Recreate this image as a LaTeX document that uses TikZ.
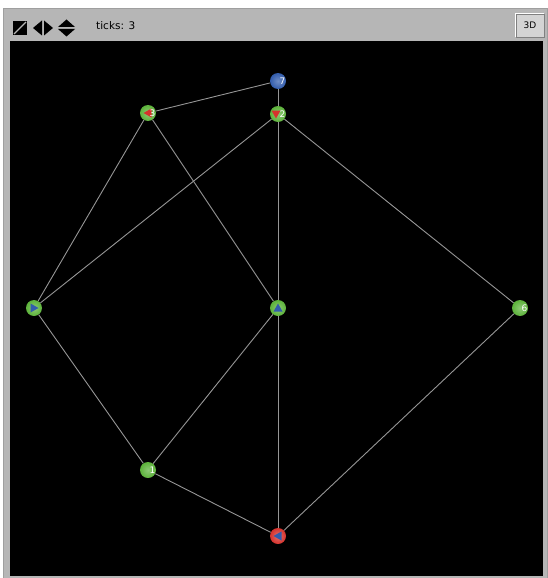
\documentclass[tikz,border=0pt]{standalone}
\usepackage{fontspec}
\setmainfont{DejaVu Sans}
\usetikzlibrary{positioning,calc}
\definecolor{nlgreen}{RGB}{92,178,58}
\definecolor{nlblue}{RGB}{50,92,172}
\definecolor{nlred}{RGB}{214,50,44}
\definecolor{linkgray}{RGB}{150,150,150}
\definecolor{bargray}{RGB}{182,182,182}
\definecolor{btngray}{RGB}{212,212,212}

\begin{document}
\begin{tikzpicture}[
    x=1pt, y=-1pt,
    vert/.style={circle, minimum size=16pt, inner sep=0pt, inner color=#1!70!white, outer color=#1},
    num/.style={text=white, font=\fontsize{9}{9}\selectfont, inner sep=0pt, xshift=4.5pt},
    link/.style={draw=linkgray, line width=0.9pt},
    btn/.style={draw=gray, fill=btngray, minimum width=28pt, minimum height=23pt, inner sep=0pt, font=\fontsize{9}{9}\selectfont}
  ]
  % window frame
  \useasboundingbox (0,0) rectangle (547,578);
  \fill[white] (0,0) rectangle (547,578);
  \fill[bargray, draw=gray!75] (3,8.5) rectangle (547,578);
  \fill[black] (10,41) rectangle (543,576);
  % toolbar
  \fill[black] (13,21) rectangle (27,35);
  \draw[bargray, line width=1.2pt] (14,34) -- (26,22);
  \fill[black] (33,28) -- (42,20.5) -- (42,35.5) -- cycle;
  \fill[black] (53,28) -- (44,20.5) -- (44,35.5) -- cycle;
  \fill[black] (66.5,19.5) -- (75,27) -- (58,27) -- cycle;
  \fill[black] (66.5,36.5) -- (75,29) -- (58,29) -- cycle;
  \node[anchor=west, inner sep=0pt, font=\fontsize{10.5}{10.5}\selectfont] (ticks) at (96,26) {ticks: 3};
  \node[btn] (btn3d) at (530,25.5) {3D};
  \draw[white, line width=1pt] (btn3d.south west) |- (btn3d.north east);

  % turtles
  \node[vert=nlblue]  (n7) at (278,81)  {};
  \node[vert=nlgreen] (n3) at (148,113) {};
  \node[vert=nlgreen] (n2) at (278,114) {};
  \node[vert=nlgreen] (n5) at (34,308)  {};
  \node[vert=nlgreen] (n4) at (278,308) {};
  \node[vert=nlgreen] (n6) at (520,308) {};
  \node[vert=nlgreen] (n1) at (148,470) {};
  \node[vert=nlred]   (n0) at (278,536) {};

  % links
  \draw[link] (n7) -- (n3);
  \draw[link] (n7) -- (n2);
  \draw[link] (n3) -- (n5);
  \draw[link] (n3) -- (n4);
  \draw[link] (n2) -- (n5);
  \draw[link] (n2) -- (n4);
  \draw[link] (n2) -- (n6);
  \draw[link] (n5) -- (n1);
  \draw[link] (n4) -- (n1);
  \draw[link] (n4) -- (n0);
  \draw[link] (n1) -- (n0);
  \draw[link] (n6) -- (n0);

  % headings
  \fill[nlred]  ([xshift=-4.5pt]n3.center) -- ++(8,-4.5) -- ++(0,9) -- cycle;
  \fill[nlred]  ([xshift=-2pt,yshift=-4.5pt]n2.center) -- ++(-4.5,-8) -- ++(9,0) -- cycle;
  \fill[nlblue] ([xshift=4.5pt]n5.center) -- ++(-8,-4.5) -- ++(0,9) -- cycle;
  \fill[nlblue] ([yshift=4.5pt]n4.center) -- ++(-4.5,8) -- ++(9,0) -- cycle;
  \fill[nlblue] ([xshift=-4.5pt]n0.center) -- ++(8,-4.5) -- ++(0,9) -- cycle;

  % labels
  \node[num] (l7) at (n7) {7};
  \node[num] (l3) at (n3) {3};
  \node[num] (l2) at (n2) {2};
  \node[num] (l6) at (n6) {6};
  \node[num] (l1) at (n1) {1};
\end{tikzpicture}
\end{document}
